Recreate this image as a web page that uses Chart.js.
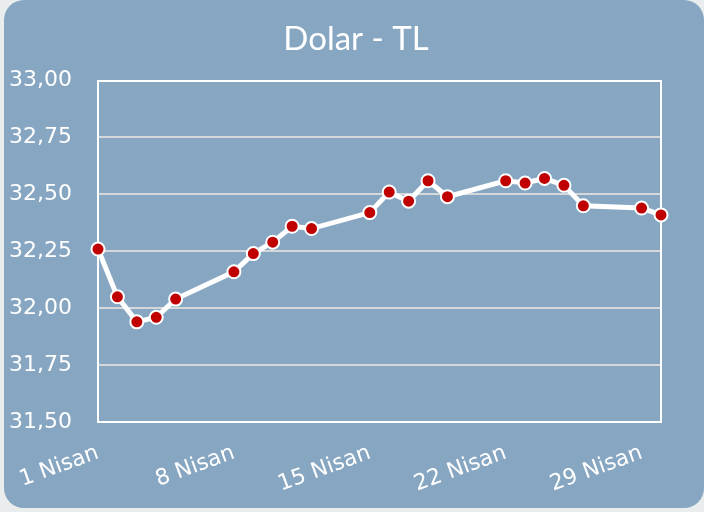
<!DOCTYPE html>
<html>
<head>
<meta charset="utf-8">
<script src="https://cdn.jsdelivr.net/npm/chart.js@4"></script>
<style>
  html, body { margin: 0; padding: 0; background: #e9eded; }
  #card { position: absolute; left: 4px; top: 0; width: 700px; height: 508px;
          background: #86a6c2; border-radius: 20px; }
  #wrap { position: absolute; left: 0; top: 0; width: 704px; height: 512px; }
</style>
</head>
<body>
<div id="card"></div>
<div id="wrap"><canvas id="my_chart"></canvas></div>
<script>
// April 2024 working days and USD/TRY rate
const days = [1, 2, 3, 4, 5, 8, 9, 10, 11, 12, 15, 16, 17, 18, 19, 22, 23, 24, 25, 26, 29, 30];
const rates = [32.26, 32.05, 31.94, 31.96, 32.04, 32.16, 32.24, 32.29, 32.36, 32.35,
               32.42, 32.51, 32.47, 32.56, 32.49, 32.56, 32.55, 32.57, 32.54, 32.45, 32.44, 32.41];
const tickDays = [1, 8, 15, 22, 29];
const monthName = 'Nisan';
const chartTitle = 'Dolar - TL';

var points = days.map(function (d, i) { return {x: d, y: rates[i]}; });
var tickFont = {family: 'DejaVu Sans', size: 22};

var ctx = document.getElementById('my_chart').getContext('2d');
let chart = new Chart(ctx, {
    type: 'line',
    data: {
        datasets: [{
            data: points,
            borderColor: '#ffffff',
            borderWidth: 5,
            pointBackgroundColor: '#c00000',
            pointBorderColor: '#ffffff',
            pointBorderWidth: 2,
            pointRadius: 6.5,
            tension: 0,
            fill: false,
            clip: false
        }]
    },
    options: {
        responsive: true,
        maintainAspectRatio: false,
        animation: false,
        layout: { padding: {left: 8, right: 0, top: 0, bottom: 0} },
        plugins: {
            legend: { display: false },
            tooltip: { enabled: false },
            title: {
                display: true,
                text: chartTitle,
                color: '#ffffff',
                font: {family: 'Lato', size: 33, weight: 'normal'},
                padding: {top: 20, bottom: 21}
            }
        },
        scales: {
            x: {
                type: 'linear',
                min: 1,
                max: 30,
                afterBuildTicks: function (s) { s.ticks = tickDays.map(function (v) { return {value: v}; }); },
                afterFit: function (s) { s.height = 90; },
                grid: { display: false, drawTicks: false },
                border: { display: true, color: '#ffffff', width: 2 },
                ticks: {
                    color: '#ffffff',
                    font: tickFont,
                    minRotation: 20,
                    maxRotation: 20,
                    padding: 18,
                    callback: function (v) { return v + ' ' + monthName; }
                }
            },
            y: {
                min: 31.5,
                max: 33,
                afterFit: function (s) { s.width = 90; },
                grid: {
                    drawTicks: false,
                    lineWidth: 2,
                    color: function (c) { return c.tick && c.tick.value === 33 ? '#ffffff' : '#d4d8da'; }
                },
                border: { display: true, color: '#ffffff', width: 2 },
                ticks: {
                    stepSize: 0.25,
                    color: '#ffffff',
                    font: tickFont,
                    padding: 26,
                    callback: function (v) { return v.toFixed(2).replace('.', ','); }
                }
            },
            yRight: {
                position: 'right',
                afterFit: function (s) { s.width = 43; },
                grid: { display: false, drawTicks: false },
                border: { display: true, color: '#ffffff', width: 2 },
                ticks: { display: false }
            }
        }
    }
});
</script>
</body>
</html>
